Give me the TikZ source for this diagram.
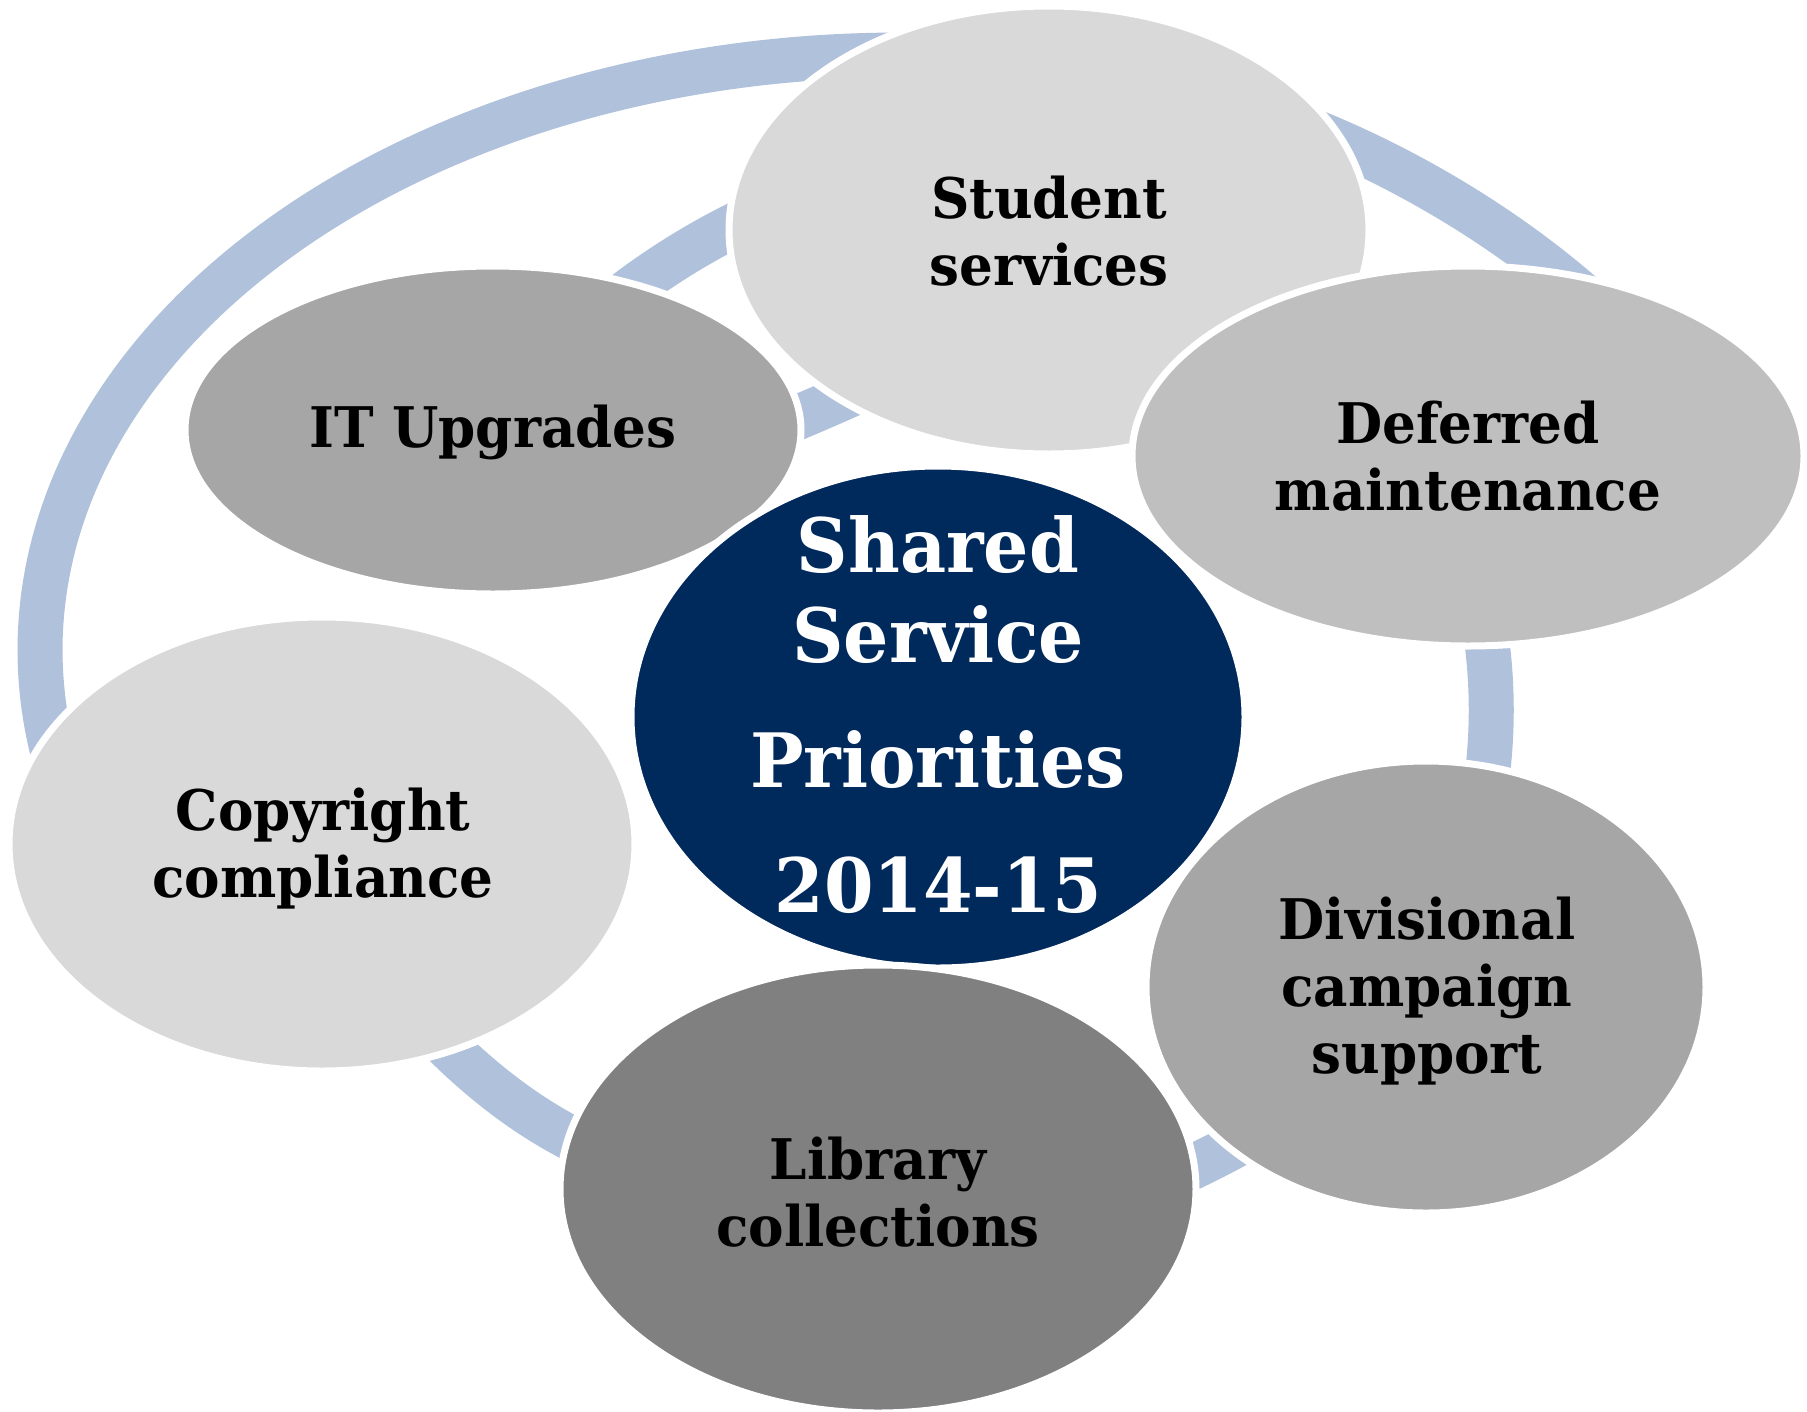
\documentclass[tikz,border=0pt]{standalone}
\usepackage{fontspec}
\setmainfont{DejaVu Serif}[FakeStretch=0.95]
\usetikzlibrary{shapes.geometric}
\definecolor{arcblue}{RGB}{176,193,220}
\definecolor{navy}{RGB}{0,41,92}
\definecolor{gA}{RGB}{217,217,217}
\definecolor{gB}{RGB}{191,191,191}
\definecolor{gC}{RGB}{166,166,166}
\definecolor{gD}{RGB}{128,128,128}
\begin{document}
\begin{tikzpicture}[x=1pt,y=-1pt,
  link/.style={draw=arcblue, line width=45pt},
  blob/.style={ellipse, draw=white, line width=7pt, inner sep=0pt},
  lbl/.style={font=\fontsize{56}{67}\selectfont\bfseries, align=center, text=black},
  biglbl/.style={font=\fontsize{75}{90}\selectfont\bfseries, align=center, text=white}]
\fill[white] (0,0) rectangle (1807,1411);
\useasboundingbox (0,0) rectangle (1807,1411);

% connecting arcs (drawn first, partly hidden by the ellipses)
\coordinate (sd1) at (1270,115);  \coordinate (sd2) at (1620,330);
\coordinate (dv1) at (1483,615);  \coordinate (dv2) at (1483,805);
\coordinate (vl1) at (1270,1126); \coordinate (vl2) at (1150,1186);
\coordinate (lc1) at (625,1162);  \coordinate (lc2) at (405,1002);
\coordinate (si1) at (785,203);   \coordinate (si2) at (590,322);
\coordinate (is1) at (750,437);   \coordinate (is2) at (880,381);
\draw[link] plot[domain=165:275, samples=90, smooth] ({900+860*cos(\x)},{650+595*sin(\x)});
\draw[link] (sd1) .. controls (1400,160) and (1530,240) .. (sd2);
\draw[link] (dv1) .. controls (1494,680) and (1494,740) .. (dv2);
\draw[link] (vl1) .. controls (1225,1152) and (1185,1172) .. (vl2);
\draw[link] (lc1) .. controls (535,1130) and (465,1070) .. (lc2);
\draw[link] (si1) .. controls (720,228) and (650,270) .. (si2);
\draw[link] (is1) .. controls (783,424) and (840,400) .. (is2);

% ellipses
\node[blob, fill=gC, minimum width=616pt, minimum height=328pt] (it) at (493,430) {};
\node[blob, fill=gA, minimum width=640pt, minimum height=448pt] (student) at (1049,230) {};
\node[blob, fill=gB, minimum width=672pt, minimum height=380pt] (deferred) at (1468,456) {};
\node[blob, fill=gA, minimum width=626pt, minimum height=454pt] (copyright) at (322,844) {};
\node[blob, fill=navy, minimum width=614pt, minimum height=502pt] (shared) at (938,717) {};
\node[blob, fill=gC, minimum width=560pt, minimum height=452pt] (divisional) at (1426,987) {};
\node[blob, fill=gD, minimum width=636pt, minimum height=448pt] (library) at (878,1189) {};

% labels
\node[lbl] (t-it) at (493,432) {IT Upgrades};
\node[lbl] (t-student) at (1049,231) {Student\\services};
\node[lbl] (t-deferred) at (1468,456) {Deferred\\maintenance};
\node[lbl] (t-copyright) at (323,849) {Copyright\\compliance};
\node[lbl] (t-divisional) at (1427,991) {Divisional\\campaign\\support};
\node[lbl] (t-library) at (878,1192) {Library\\collections};
\node[biglbl] (t-shared) at (938,715) {Shared\\Service\\[35pt]Priorities\\[35pt]2014-15};
\end{tikzpicture}
\end{document}
